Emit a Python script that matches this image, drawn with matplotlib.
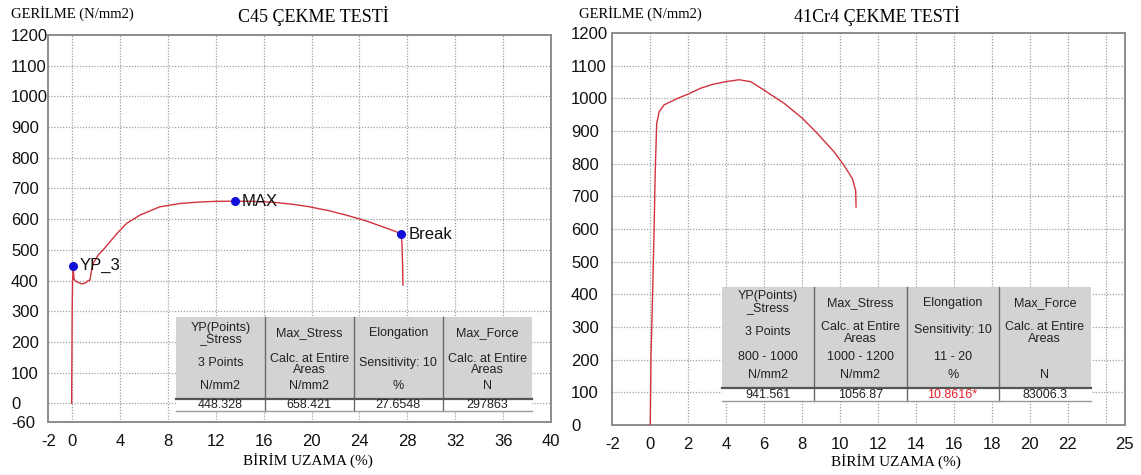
import numpy as np
import matplotlib
matplotlib.use("Agg")
import matplotlib.pyplot as plt
from matplotlib.patches import Rectangle
from matplotlib.lines import Line2D

plt.rcParams["axes.unicode_minus"] = False

# ---------------- data ----------------
c45_strain = [-0.05, -0.02, 0.0, 0.03, 0.06, 0.08, 0.1, 0.15, 0.37, 0.78, 1.1, 1.34, 1.48,
              1.6, 1.75, 2.17, 2.7, 3.15, 3.8, 4.54, 5.65, 7.3, 9.0, 10.7, 12.0, 13.56,
              15.0, 16.8, 18.5, 19.86, 21.5, 22.9, 24.5, 25.95, 27.0, 27.5, 27.55, 27.6, 27.63]
c45_stress = [0, 200, 330, 401, 420, 447, 430, 404, 396, 389, 392, 400, 401,
              430, 456, 483, 505, 526, 556, 586, 613, 640, 651, 656, 658, 658.4,
              658, 655, 648, 640, 627, 613, 595, 575, 560, 551, 520, 450, 385]
c45_pt_x = [0.08, 13.56, 27.5]
c45_pt_y = [448.3, 658.4, 551]
c45_pt_lbl = ["YP_3", "MAX", "Break"]

cr_strain = [0.0, 0.04, 0.13, 0.21, 0.26, 0.34, 0.47, 0.73, 1.44, 2.0, 2.66, 3.3, 3.98,
             4.68, 5.3, 6.0, 7.05, 8.02, 8.8, 9.68, 10.2, 10.65, 10.83, 10.85]
cr_stress = [0, 210, 413, 617, 770, 923, 959, 980, 1000, 1013, 1031, 1043, 1051,
             1056.9, 1051, 1025, 985, 939, 893, 837, 796, 755, 718, 667]

c45_xticks = [-2, 0, 4, 8, 12, 16, 20, 24, 28, 32, 36, 40]
c45_yticks = [-60, 0, 100, 200, 300, 400, 500, 600, 700, 800, 900, 1000, 1100, 1200]
cr_xticks = [-2, 0, 2, 4, 6, 8, 10, 12, 14, 16, 18, 20, 22, 25]
cr_yticks = [0, 100, 200, 300, 400, 500, 600, 700, 800, 900, 1000, 1100, 1200]

tbl_head1 = ["YP(Points)\n_Stress", "Max_Stress", "Elongation", "Max_Force"]
tbl_head2 = ["3 Points", "Calc. at Entire\nAreas", "Sensitivity: 10", "Calc. at Entire\nAreas"]
tbl_units = ["N/mm2", "N/mm2", "%", "N"]
c45_values = ["448.328", "658.421", "27.6548", "297863"]
cr_ranges = ["800 - 1000", "1000 - 1200", "11 - 20", ""]
cr_values = ["941.561", "1056.87", "10.8616*", "83006.3"]

# ---------------- figure ----------------
W, H = 1141, 475
fig = plt.figure(figsize=(W / 100, H / 100), dpi=100)
fig.patch.set_facecolor("white")

SANS = ["Liberation Sans", "DejaVu Sans"]
SERIF = ["Liberation Serif", "DejaVu Serif"]
RED = "#d2323f"
GRID = "#a0a0a0"


def fx(x):
    return x / W


def fy(y):
    return 1 - y / H


def make_axes(l, r, t, b):
    return fig.add_axes([fx(l), fy(b), fx(r) - fx(l), fy(t) - fy(b)])


def style_axes(ax, xticks, yticks, xgrid, ygrid, xlim, ylim, ypad, xpad):
    ax.set_xlim(*xlim)
    ax.set_ylim(*ylim)
    ax.set_xticks(xticks)
    ax.set_yticks(yticks)
    ax.xaxis.remove_overlapping_locs = False
    ax.yaxis.remove_overlapping_locs = False
    ax.set_xticks(xgrid, minor=True)
    ax.set_yticks(ygrid, minor=True)
    ax.xaxis.set_tick_params(which="major", pad=xpad)
    ax.yaxis.set_tick_params(which="major", pad=ypad)
    ax.tick_params(which="both", length=0, labelsize=12)
    for lab in ax.get_xticklabels() + ax.get_yticklabels():
        lab.set_fontfamily(SANS)
        lab.set_color("#111111")
    for lab in ax.get_yticklabels():
        lab.set_horizontalalignment("left")
    ax.grid(False, which="major")
    ax.grid(True, which="minor", color=GRID, linestyle=(0, (1, 1.3)), linewidth=0.9)
    ax.set_axisbelow(True)
    for s in ax.spines.values():
        s.set_color("#8c8c8c")
        s.set_linewidth(1.4)


def draw_table(ax, left, right, top, line_y, bottom, rows, values, value_colors):
    T = fig.transFigure
    ncol = 4
    cw = (right - left) / ncol
    ax.add_patch(Rectangle((fx(left), fy(line_y)), fx(right) - fx(left), fy(top) - fy(line_y),
                           transform=T, facecolor="#d3d3d3", edgecolor="none",
                           zorder=5, clip_on=False))
    ax.add_patch(Rectangle((fx(left), fy(bottom)), fx(right) - fx(left), fy(line_y) - fy(bottom),
                           transform=T, facecolor="white", edgecolor="none",
                           zorder=5, clip_on=False))
    for i in range(1, ncol):
        xs = left + i * cw
        ax.add_line(Line2D([fx(xs), fx(xs)], [fy(top), fy(bottom)], transform=T,
                           color="#6a6a6a", lw=1.0, zorder=6, clip_on=False))
    ax.add_line(Line2D([fx(left), fx(right)], [fy(line_y), fy(line_y)], transform=T,
                       color="#555555", lw=1.6, zorder=6, clip_on=False))
    ax.add_line(Line2D([fx(left), fx(right)], [fy(bottom), fy(bottom)], transform=T,
                       color="#9a9a9a", lw=1.0, zorder=6, clip_on=False))
    for texts, ys in rows:
        for i, (t, yy) in enumerate(zip(texts, ys)):
            if not t:
                continue
            ax.text(fx(left + (i + 0.5) * cw), fy(yy), t, transform=T, ha="center",
                    va="center", fontsize=9, family=SANS, color="#222222",
                    linespacing=0.95, zorder=7, clip_on=False)
    vy = (line_y + bottom) / 2 + 0.5
    for i, (t, c) in enumerate(zip(values, value_colors)):
        ax.text(fx(left + (i + 0.5) * cw), fy(vy), t, transform=T, ha="center",
                va="center", fontsize=9, family=SANS, color=c, zorder=7, clip_on=False)


# ---------------- left chart: C45 ----------------
ax1 = make_axes(48.3, 551, 35, 421.7)
style_axes(ax1, c45_xticks, c45_yticks, np.arange(0, 37, 4), np.arange(0, 1101, 100),
           (-2, 40), (-60, 1200), ypad=(48.3 - 11) * 0.72, xpad=9)
ax1.plot(c45_strain, c45_stress, color=RED, lw=1.0, zorder=3)
ax1.plot(c45_pt_x, c45_pt_y, "o", color="#1010d8", markersize=5.5, zorder=4)
for x, y, t in zip(c45_pt_x, c45_pt_y, c45_pt_lbl):
    ax1.annotate(t, (x, y), xytext=(5, 0), textcoords="offset points", ha="left",
                 va="center", fontsize=12, family=SANS, color="#111111", zorder=4)

t = 316.7
draw_table(ax1, 176, 531.7, t, t + 82.6, t + 94,
           [(tbl_head1, [t + 16.6, t + 16.6, t + 16.6, t + 16.6]),
            (tbl_head2, [t + 46.6, t + 48, t + 46.6, t + 48]),
            (tbl_units, [t + 69, t + 69, t + 69, t + 69])],
           c45_values, ["#222222"] * 4)

fig.text(fx(11), fy(13), "GERİLME (N/mm2)", fontsize=10.5, family=SERIF, ha="left", va="center")
fig.text(fx(313), fy(15.5), "C45 ÇEKME TESTİ", fontsize=13, family=SERIF, ha="center", va="center")
fig.text(fx(308), fy(460), "BİRİM UZAMA (%)", fontsize=11, family=SERIF, ha="center", va="center")

# ---------------- right chart: 41Cr4 ----------------
ax2 = make_axes(612.3, 1124.5, 33, 425)
style_axes(ax2, cr_xticks, cr_yticks, np.arange(0, 25, 2), np.arange(100, 1101, 100),
           (-2, 25), (0, 1200), ypad=(612.3 - 571) * 0.72, xpad=8.5)
ax2.plot(cr_strain, cr_stress, color=RED, lw=1.0, zorder=3)

t = 287
draw_table(ax2, 722, 1091, t, t + 100.5, t + 114,
           [(tbl_head1, [t + 15, t + 15.7, t + 15.7, t + 15.7]),
            (tbl_head2, [t + 44.7, t + 46, t + 43, t + 46]),
            (cr_ranges, [t + 70.3] * 4),
            (tbl_units, [t + 87.5] * 4)],
           cr_values, ["#222222", "#222222", "#e8202a", "#222222"])

fig.text(fx(579), fy(13), "GERİLME (N/mm2)", fontsize=10.5, family=SERIF, ha="left", va="center")
fig.text(fx(876.5), fy(15.5), "41Cr4 ÇEKME TESTİ", fontsize=13, family=SERIF, ha="center", va="center")
fig.text(fx(896), fy(461), "BİRİM UZAMA (%)", fontsize=11, family=SERIF, ha="center", va="center")

fig.savefig("out.png", dpi=100, facecolor="white")
